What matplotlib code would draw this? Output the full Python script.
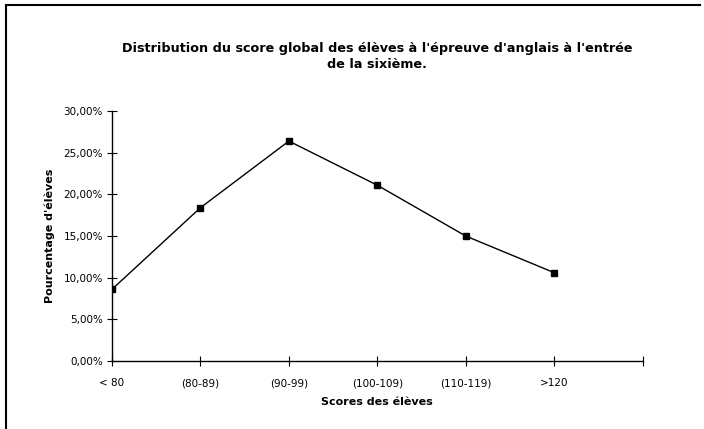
import numpy as np
import matplotlib
matplotlib.use('Agg')
import matplotlib.pyplot as plt
from matplotlib.ticker import FuncFormatter
from matplotlib.lines import Line2D

# Score classes and share of pupils (%)
categories = ['< 80', '(80-89)', '(90-99)', '(100-109)', '(110-119)', '>120']
percentages = [8.6, 18.4, 26.4, 21.1, 15.0, 10.6]

title = "Distribution du score global des élèves à l'épreuve d'anglais à l'entrée\nde la sixième."

plt.rcParams['font.family'] = ['DejaVu Sans']

fig = plt.figure(figsize=(7.04, 4.29), dpi=100)
ax = fig.add_axes([0.159, 0.1585, 0.754, 0.5825])

x = np.arange(len(categories))
ax.plot(x, percentages, color='black', linewidth=1.0, marker='s', markersize=4.5,
        markerfacecolor='black', markeredgecolor='black')

ax.set_xlim(0, 6)
ax.set_ylim(0, 30)
ax.set_xticks(np.arange(7))
ax.set_xticklabels(categories + [''], fontsize=7.5)
ax.set_yticks(np.arange(0, 31, 5))
ax.yaxis.set_major_formatter(FuncFormatter(lambda v, p: ('%.2f%%' % v).replace('.', ',')))
ax.tick_params(axis='y', labelsize=7.5, direction='inout', length=7, width=0.8, pad=3)
ax.tick_params(axis='x', direction='inout', length=7, width=0.8, pad=9)

for side in ['top', 'right']:
    ax.spines[side].set_visible(False)
for side in ['left', 'bottom']:
    ax.spines[side].set_linewidth(1.0)

ax.set_xlabel('Scores des élèves', fontsize=8, fontweight='bold', labelpad=6)
ax.set_ylabel("Pourcentage d'élèves", fontsize=8, fontweight='bold', labelpad=6)

fig.text(0.536, 0.868, title, ha='center', va='center', fontsize=9.2, fontweight='bold',
         linespacing=1.33)

# page frame (left and top border)
fig.add_artist(Line2D([6 / 704, 6 / 704], [0, 1 - 5 / 429], transform=fig.transFigure,
                      color='black', linewidth=1.5))
fig.add_artist(Line2D([6 / 704, 700 / 704], [1 - 5 / 429, 1 - 5 / 429], transform=fig.transFigure,
                      color='black', linewidth=1.5))

fig.savefig('out.png', dpi=100)
